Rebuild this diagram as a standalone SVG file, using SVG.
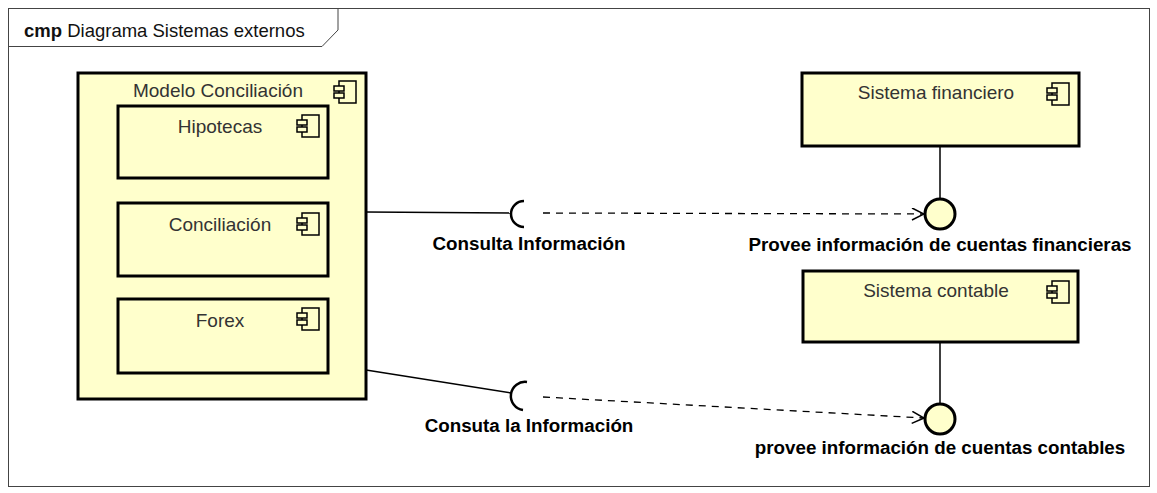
<svg xmlns="http://www.w3.org/2000/svg" width="1157" height="493" viewBox="0 0 1157 493">
<style>
.comp{fill:#FFFFCC;stroke:#000;stroke-width:3}
.ttl{font-family:"Liberation Sans",Arial,sans-serif;font-size:19px;fill:#333;text-anchor:middle}
.lbl{font-family:"Liberation Sans",Arial,sans-serif;font-size:18.8px;font-weight:bold;fill:#000;text-anchor:middle}
.ln{stroke:#000;stroke-width:1.5;fill:none}
.dash{stroke:#000;stroke-width:1.3;fill:none;stroke-dasharray:7 6}
.ball{fill:#FFFFCC;stroke:#000;stroke-width:3}
.sock{fill:none;stroke:#000;stroke-width:2.5}
</style>
<defs>
<g id="icon">
<rect x="5" y="0" width="17" height="22" fill="#FFFFCC" stroke="#000" stroke-width="1.5"/>
<rect x="0" y="5" width="10" height="5" fill="#FFFFCC" stroke="#000" stroke-width="1.5"/>
<rect x="0" y="12" width="10" height="5" fill="#FFFFCC" stroke="#000" stroke-width="1.5"/>
</g>
<marker id="open" markerWidth="14" markerHeight="14" refX="13" refY="6" orient="auto" markerUnits="userSpaceOnUse">
<path d="M1,0 L13,6 L1,12" fill="none" stroke="#000" stroke-width="1.5"/>
</marker>
</defs>
<rect width="1157" height="493" fill="#fff"/>
<g id="frame">
<rect x="8.5" y="8.5" width="1141" height="478" fill="none" stroke="#444" stroke-width="1"/>
<path d="M8.5 46.5 H322 L338 30 V8.5" fill="none" stroke="#444" stroke-width="1"/>
<text x="24" y="37" font-family="'Liberation Sans',Arial,sans-serif" font-size="18.5" fill="#111"><tspan font-weight="bold">cmp</tspan> Diagrama Sistemas externos</text>
</g>
<g id="modelo-conciliacion">
<rect class="comp" x="78" y="73" width="288" height="326"/>
<text class="ttl" x="218" y="97">Modelo Conciliación</text>
<use href="#icon" x="334" y="81"/>
</g>
<g id="hipotecas">
<rect class="comp" x="118" y="106" width="210" height="72"/>
<text class="ttl" x="220" y="133">Hipotecas</text>
<use href="#icon" x="297" y="115"/>
</g>
<g id="conciliacion">
<rect class="comp" x="118" y="203" width="210" height="73"/>
<text class="ttl" x="220" y="231">Conciliación</text>
<use href="#icon" x="297" y="213"/>
</g>
<g id="forex">
<rect class="comp" x="118" y="299" width="210" height="74"/>
<text class="ttl" x="220" y="327">Forex</text>
<use href="#icon" x="297" y="308"/>
</g>
<g id="sistema-financiero">
<rect class="comp" x="802" y="73" width="277" height="73"/>
<text class="ttl" x="936" y="99">Sistema financiero</text>
<use href="#icon" x="1047" y="83"/>
</g>
<g id="sistema-contable">
<rect class="comp" x="803" y="271" width="275" height="71"/>
<text class="ttl" x="936" y="297">Sistema contable</text>
<use href="#icon" x="1047" y="281"/>
</g>
<g id="connectors">
<line class="ln" x1="366" y1="212" x2="510" y2="213"/>
<path class="sock" d="M524 201 A13 13 0 0 0 524 227"/>
<line class="dash" x1="543" y1="213" x2="924" y2="214" marker-end="url(#open)"/>
<line class="ln" x1="940" y1="146" x2="940" y2="199"/>
<circle class="ball" cx="940" cy="214" r="15"/>
<line class="ln" x1="366" y1="370" x2="511" y2="393"/>
<path class="sock" d="M527 382 A14 14 0 0 0 523 410"/>
<line class="dash" x1="543" y1="397" x2="924" y2="418" marker-end="url(#open)"/>
<line class="ln" x1="940" y1="342" x2="940" y2="404"/>
<circle class="ball" cx="940" cy="419" r="15"/>
</g>
<g id="labels">
<text class="lbl" x="529" y="250">Consulta Información</text>
<text class="lbl" x="940" y="251">Provee información de cuentas financieras</text>
<text class="lbl" x="529" y="432">Consuta la Información</text>
<text class="lbl" x="940" y="454">provee información de cuentas contables</text>
</g>
</svg>
